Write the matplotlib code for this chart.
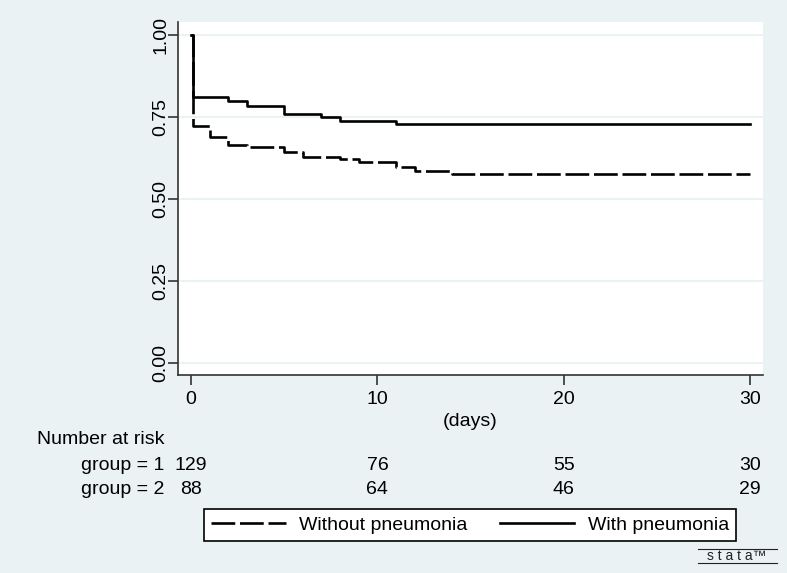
import matplotlib
matplotlib.use('Agg')
import matplotlib.pyplot as plt
import matplotlib.transforms as mtransforms
from matplotlib.lines import Line2D

# Kaplan-Meier step data
days_without = [0, 0.1, 1, 2, 3, 5, 6, 8, 9, 11, 12, 14, 30]
surv_without = [1.0, 0.722, 0.690, 0.666, 0.659, 0.643, 0.628, 0.621, 0.612, 0.598, 0.586, 0.578, 0.578]
days_with = [0, 0.1, 2, 3, 5, 7, 8, 11, 30]
surv_with = [1.0, 0.810, 0.799, 0.785, 0.761, 0.749, 0.739, 0.728, 0.728]

# Number at risk table
risk_times = [0, 10, 20, 30]
risk_group1 = [129, 76, 55, 30]
risk_group2 = [88, 64, 46, 29]
row_labels = ['group = 1', 'group = 2']

x_ticks = [0, 10, 20, 30]
y_ticks = [0.0, 0.25, 0.5, 0.75, 1.0]

plt.rcParams['font.family'] = ['Liberation Sans', 'DejaVu Sans']

bg = '#EAF2F3'
dash = (9, 1.8)
fig = plt.figure(figsize=(7.87, 5.73), dpi=100, facecolor=bg)
ax = fig.add_axes([0.2262, 0.345, 0.9691 - 0.2262, 0.9616 - 0.345])
ax.set_facecolor('white')

ax.step(days_without, surv_without, where='post', color='black', lw=1.9,
        dashes=dash, zorder=3)
ax.step(days_with, surv_with, where='post', color='black', lw=1.9, zorder=4)

ax.set_xlim(-0.7, 30.68)
ax.set_ylim(-0.037, 1.04)
ax.set_xticks(x_ticks)
ax.set_yticks(y_ticks)
ax.set_yticklabels([f'{v:.2f}' for v in y_ticks], rotation=90, va='center')
ax.tick_params(axis='both', labelsize=14, length=7, width=1.2, color='#333333')
ax.tick_params(axis='y', pad=-1)
ax.tick_params(axis='x', pad=4)
ax.grid(axis='y', color=bg, lw=1.5)
ax.set_axisbelow(True)
for s in ['top', 'right']:
    ax.spines[s].set_visible(False)
for s in ['left', 'bottom']:
    ax.spines[s].set_color('#333333')
    ax.spines[s].set_linewidth(1.2)
ax.set_xlabel('(days)', fontsize=14, labelpad=4)

# number at risk table, x positions follow the data axis
trans = mtransforms.blended_transform_factory(ax.transData, fig.transFigure)
fig.text(37 / 787, 1 - 440 / 573, 'Number at risk', fontsize=14, va='center', ha='left')
for row, (label, counts) in enumerate(zip(row_labels, [risk_group1, risk_group2])):
    y = 1 - (465 + 24 * row) / 573
    fig.text(164 / 787, y, label, fontsize=14, va='center', ha='right')
    for t, n in zip(risk_times, counts):
        ax.text(t, y, str(n), transform=trans, fontsize=14, va='center', ha='center')

handles = [Line2D([], [], color='black', lw=1.9, dashes=dash),
           Line2D([], [], color='black', lw=1.9)]
leg = fig.legend(handles, ['Without pneumonia', 'With pneumonia'], ncol=2,
                 loc='center', bbox_to_anchor=(470 / 787, 1 - 525 / 573),
                 fontsize=14, frameon=True, fancybox=False, edgecolor='black',
                 framealpha=1, handlelength=3.85, columnspacing=1.65, borderpad=0.36,
                 handletextpad=0.7)
leg.get_frame().set_linewidth(1.2)

# stata logo
fig.text(737 / 787, 1 - 556 / 573, 's t a t a\u2122', fontsize=10, ha='center', va='center',
         color='#222222')
fig.add_artist(Line2D([698 / 787, 777 / 787], [1 - 549 / 573] * 2, color='#222222', lw=0.8))
fig.add_artist(Line2D([698 / 787, 777 / 787], [1 - 563 / 573] * 2, color='#222222', lw=0.8))

fig.savefig('out.png', dpi=100, facecolor=bg)
